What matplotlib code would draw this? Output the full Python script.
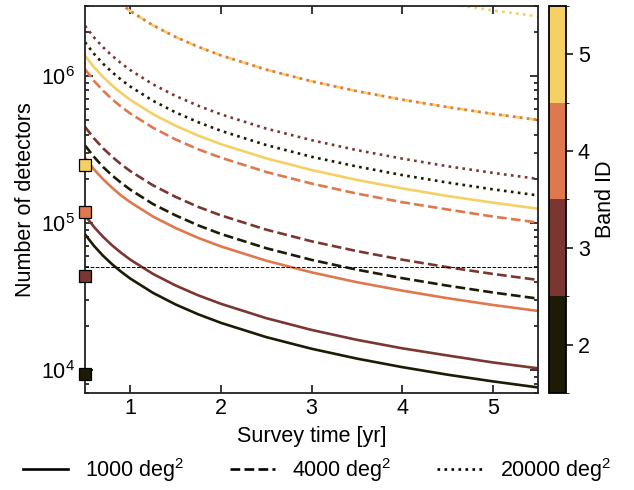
import matplotlib

matplotlib.use("Agg")
import matplotlib.pyplot as plt
from matplotlib.colors import BoundaryNorm, ListedColormap
from matplotlib.lines import Line2D

plt.rcParams["font.family"] = ["Liberation Sans", "DejaVu Sans"]
plt.rcParams["mathtext.fontset"] = "custom"
plt.rcParams["mathtext.rm"] = "Liberation Sans"
plt.rcParams["mathtext.it"] = "Liberation Sans:italic"
plt.rcParams["font.size"] = 15.5

# survey time grid [yr]
survey_time = [0.5, 0.6, 0.7, 0.8, 0.9, 1.0, 1.25, 1.5, 1.75, 2.0, 2.5, 3.0, 3.5, 4.0, 4.5, 5.0, 5.5]

band_ids = [2, 3, 4, 5]
band_colors = ["#1d1a06", "#7a3731", "#e0784f", "#f5d064"]

# number of detectors, 1000 deg^2 survey
n_1000_band2 = [84000, 70000, 60000, 52500, 46700, 42000, 33600, 28000, 24000, 21000, 16800, 14000, 12000, 10500, 9330, 8400, 7640]
n_1000_band3 = [113000, 94200, 80700, 70600, 62800, 56500, 45200, 37700, 32300, 28300, 22600, 18800, 16100, 14100, 12600, 11300, 10300]
n_1000_band4 = [278000, 232000, 199000, 174000, 154000, 139000, 111000, 92700, 79400, 69500, 55600, 46300, 39700, 34800, 30900, 27800, 25300]
n_1000_band5 = [1380000, 1150000, 986000, 863000, 767000, 690000, 552000, 460000, 394000, 345000, 276000, 230000, 197000, 172500, 153000, 138000, 125500]

# 4000 deg^2 survey
n_4000_band2 = [338000, 282000, 241000, 211000, 188000, 169000, 135000, 113000, 96600, 84500, 67600, 56300, 48300, 42300, 37600, 33800, 30700]
n_4000_band3 = [452000, 377000, 323000, 283000, 251000, 226000, 181000, 151000, 129000, 113000, 90400, 75300, 64600, 56500, 50200, 45200, 41100]
n_4000_band4 = [1114000, 928000, 796000, 696000, 619000, 557000, 446000, 371000, 318000, 279000, 223000, 186000, 159000, 139000, 124000, 111000, 101000]
n_4000_band5 = [5540000, 4620000, 3960000, 3460000, 3080000, 2770000, 2216000, 1847000, 1583000, 1385000, 1108000, 923000, 791000, 692000, 616000, 554000, 504000]

# 20000 deg^2 survey
n_20000_band2 = [1700000, 1417000, 1214000, 1063000, 944000, 850000, 680000, 567000, 486000, 425000, 340000, 283000, 243000, 212500, 189000, 170000, 154500]
n_20000_band3 = [2200000, 1833000, 1571000, 1375000, 1222000, 1100000, 880000, 733000, 629000, 550000, 440000, 367000, 314000, 275000, 244000, 220000, 200000]
n_20000_band4 = [5540000, 4620000, 3960000, 3460000, 3080000, 2770000, 2216000, 1847000, 1583000, 1385000, 1108000, 923000, 791000, 692000, 616000, 554000, 504000]
n_20000_band5 = [28000000, 23300000, 20000000, 17500000, 15600000, 14000000, 11200000, 9330000, 8000000, 7000000, 5600000, 4670000, 4000000, 3500000, 3110000, 2800000, 2550000]

# current detector counts per band (squares on the left axis)
current_detectors = [9400, 43400, 119000, 247000]

threshold = 50000

areas = ["1000 deg$^2$", "4000 deg$^2$", "20000 deg$^2$"]
styles = ["-", "--", ":"]
curves = [
    [n_1000_band2, n_1000_band3, n_1000_band4, n_1000_band5],
    [n_4000_band2, n_4000_band3, n_4000_band4, n_4000_band5],
    [n_20000_band2, n_20000_band3, n_20000_band4, n_20000_band5],
]

fig = plt.figure(figsize=(6.34, 4.9), dpi=100)
ax = fig.add_axes([85 / 634, 1 - 393 / 490, 453 / 634, 387 / 490])
cax = fig.add_axes([549 / 634, 1 - 393 / 490, 17 / 634, 387 / 490])

for style, band_curves in zip(styles, curves):
    for color, values in zip(band_colors, band_curves):
        ax.plot(survey_time, values, ls=style, color=color, lw=1.9)

ax.axhline(threshold, color="black", ls="--", lw=0.7)

for color, n in zip(band_colors, current_detectors):
    ax.plot(
        [survey_time[0]], [n], marker="s", ms=8, color=color,
        mec="black", mew=0.9, clip_on=False, zorder=5,
    )

ax.set_yscale("log")
ax.set_xlim(0.5, 5.5)
ax.set_ylim(7e3, 3e6)
ax.set_xticks([1, 2, 3, 4, 5])
ax.set_xlabel("Survey time [yr]", labelpad=5)
ax.set_ylabel("Number of detectors", labelpad=4)
ax.tick_params(which="both", direction="in", top=True, right=True, width=1.1)
ax.tick_params(which="major", length=5.5)
ax.tick_params(which="minor", length=3)
ax.tick_params(axis="y", pad=7)
for sp in ax.spines.values():
    sp.set_linewidth(1.3)
    sp.set_color("#222222")

cmap = ListedColormap(band_colors)
norm = BoundaryNorm([1.5, 2.5, 3.5, 4.5, 5.5], cmap.N)
sm = plt.cm.ScalarMappable(cmap=cmap, norm=norm)
cbar = fig.colorbar(sm, cax=cax, ticks=band_ids)
cbar.set_label("Band ID")
cbar.outline.set_linewidth(1.3)
cax.tick_params(length=5, width=1.1)

handles = [Line2D([], [], color="black", ls=s, lw=1.9) for s in styles]
fig.legend(
    handles, areas, loc="center", bbox_to_anchor=(0.5, 1 - 470 / 490),
    ncol=3, frameon=False, handlelength=2.1, handletextpad=0.8,
    columnspacing=2.1,
)

fig.savefig("out.png", dpi=100)
